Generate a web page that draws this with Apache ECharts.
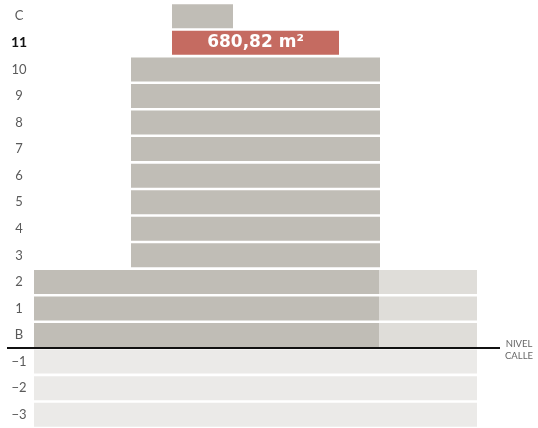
<!DOCTYPE html>
<html>
<head>
<meta charset="utf-8">
<script src="https://cdn.jsdelivr.net/npm/echarts@6/dist/echarts.min.js"></script>
<style>html,body{margin:0;padding:0;background:#fff}#c{width:538px;height:428px}</style>
</head>
<body>
<div id="c"></div>
<script>
const floors = ['C','11','10','9','8','7','6','5','4','3','2','1','B','−1','−2','−3'];
const startX = [138,138,97,97,97,97,97,97,97,97,0,0,0,0,0,0];
const mainLen = [61,167,249,249,249,249,249,249,249,249,345,345,345,443,443,443];
const extraLen = [0,0,0,0,0,0,0,0,0,0,98,98,98,0,0,0];
const highlightFloor = '11';
const highlightLabel = '680,82 m²';

const DARK = '#c0bdb6', RED = '#c56b61', LIGHT = '#dfddd9', LIGHTEST = '#ebeae8';

const chart = echarts.init(document.getElementById('c'), null, {renderer:'canvas'});
const mainData = floors.map((f,i)=>{
  let color = DARK;
  if (f === highlightFloor) color = RED;
  else if (f.startsWith('−')) color = LIGHTEST;
  const item = {value: mainLen[i], itemStyle:{color}};
  if (f === highlightFloor) item.label = {show:true, formatter: highlightLabel, position:'inside', color:'#fff', fontSize:17, fontWeight:'bold', fontFamily:'"DejaVu Sans", sans-serif'};
  return item;
});
chart.setOption({
  animation:false,
  grid:{left:34, right:61, top:3, height:425},
  xAxis:{type:'value', min:0, max:443, show:false},
  yAxis:{type:'category', data:floors, inverse:true,
    axisLine:{show:false}, axisTick:{show:false},
    axisLabel:{align:'center', margin:15, fontSize:13, color:'#5a5a5a', fontFamily:'Lato, sans-serif',
      formatter:(v)=> v===highlightFloor ? '{b|'+v+'}' : v,
      rich:{b:{fontWeight:'bold', color:'#111', fontSize:14, fontFamily:'Lato, sans-serif'}}}},
  series:[
    {type:'bar', stack:'s', barWidth:24, data:startX, itemStyle:{color:'transparent'}, silent:true, emphasis:{disabled:true}},
    {type:'bar', stack:'s', barWidth:24, data:mainData, silent:true, emphasis:{disabled:true}},
    {type:'bar', stack:'s', barWidth:24, data:extraLen, itemStyle:{color:LIGHT}, silent:true, emphasis:{disabled:true}}
  ]
});
const yB = chart.convertToPixel({yAxisIndex:0}, 'B');
const yM = chart.convertToPixel({yAxisIndex:0}, '−1');
const yLine = Math.round((yB+yM)/2);
chart.setOption({graphic:[
  {type:'line', shape:{x1:7, y1:yLine, x2:500, y2:yLine}, style:{stroke:'#111', lineWidth:2}},
  {type:'text', x:519, y:yLine-10, style:{text:'NIVEL\nCALLE', fill:'#666', fontSize:9.5, lineHeight:12, align:'center', verticalAlign:'top', fontFamily:'Lato, sans-serif'}}
]});
</script>
</body>
</html>
